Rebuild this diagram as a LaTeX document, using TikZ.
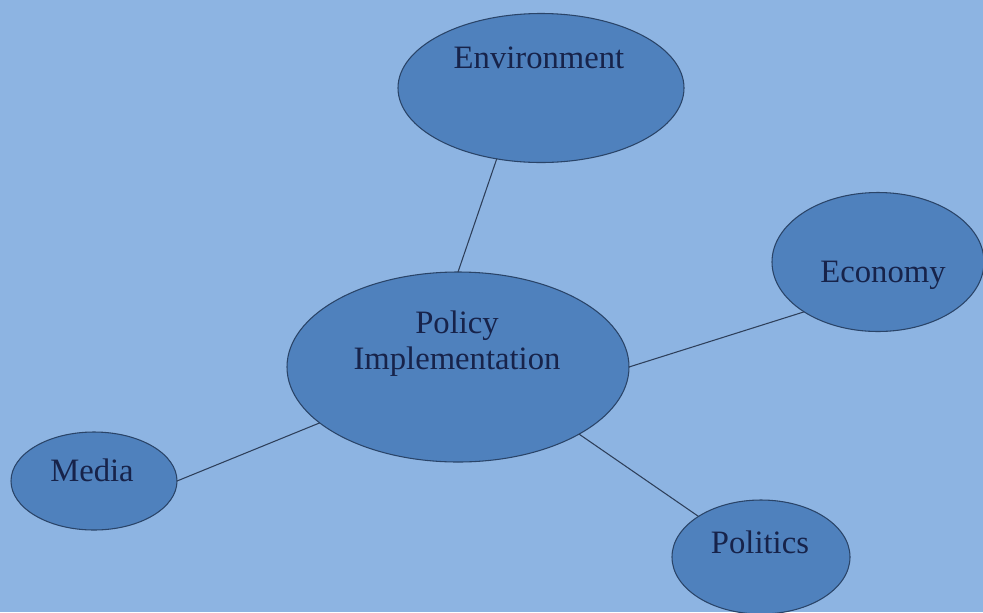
\documentclass[tikz,border=0pt]{standalone}
\usepackage{fontspec}
\setmainfont{Liberation Serif}
\usetikzlibrary{shapes.geometric}
\definecolor{bgblue}{HTML}{8DB4E2}
\definecolor{fillblue}{HTML}{4F81BD}
\definecolor{edgeblue}{HTML}{2A4468}
\definecolor{txtnavy}{HTML}{17234A}
\definecolor{linecol}{HTML}{2E3F5A}
\tikzset{
  bubble/.style={ellipse, draw=edgeblue, line width=0.8pt, fill=fillblue, inner sep=0pt, outer sep=0pt},
  lbl/.style={text=txtnavy, font=\fontsize{24.5}{27}\selectfont, inner sep=0pt, anchor=base, align=center},
  link/.style={draw=linecol, line width=0.8pt}
}
\begin{document}
\begin{tikzpicture}[x=0.75pt,y=-0.75pt]
\useasboundingbox (0,0) rectangle (983,612);
\fill[bgblue] (0,0) rectangle (983,612);
\clip (0,0) rectangle (983,612);
\node[bubble, minimum width=214.5pt, minimum height=111.75pt] (env) at (541,88) {};
\node[bubble, minimum width=159pt, minimum height=104.25pt] (eco) at (878,262) {};
\node[bubble, minimum width=256.5pt, minimum height=142.5pt] (pol) at (458,367) {};
\node[bubble, minimum width=124.5pt, minimum height=73.5pt] (med) at (94,481) {};
\node[bubble, minimum width=133.5pt, minimum height=85.5pt] (pols) at (761,557) {};
\draw[link] (env.238) -- (pol.90);
\draw[link] (pol.0) -- (eco.214);
\draw[link] (pol.202) -- (med.0);
\draw[link] (pol.331) -- (pols.147);
\node[lbl] (envt) at (539,68) {Environment};
\node[lbl] (ecot) at (883,282) {Economy};
\node[lbl] (polt) at (457,369) {Policy\\Implementation};
\node[lbl] (medt) at (92,481) {Media};
\node[lbl] (polst) at (760,553) {Politics};
\end{tikzpicture}
\end{document}
